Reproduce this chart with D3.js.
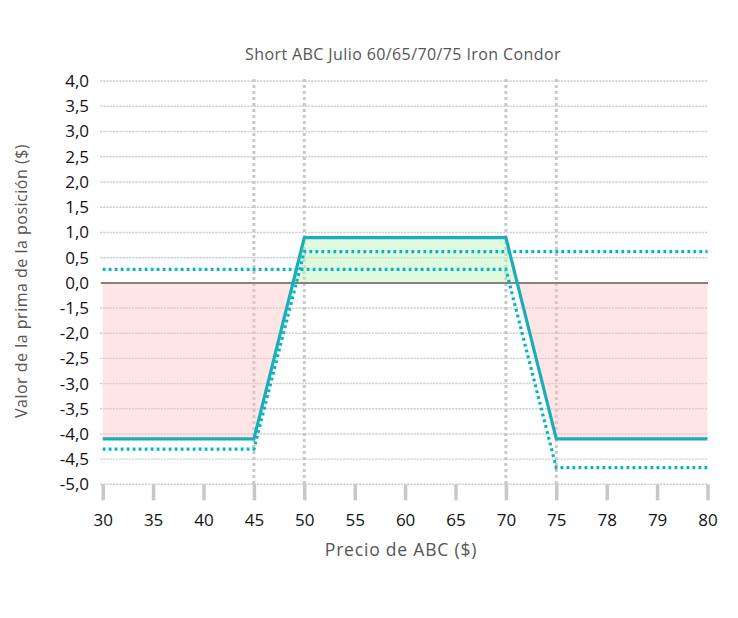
<!DOCTYPE html>
<html>
<head>
<meta charset="utf-8">
<script src="https://cdn.jsdelivr.net/npm/d3@7"></script>
<style>
  html, body { margin: 0; padding: 0; background: #fff; }
  svg { display: block; font-family: "Open Sans", "Lato", sans-serif; }
</style>
</head>
<body>
<svg id="chart" width="738" height="618"></svg>
<script>
// ---- Data ----
const chartTitle = "Short ABC Julio 60/65/70/75 Iron Condor";
const xTitle = "Precio de ABC ($)";
const yTitle = "Valor de la prima de la posición ($)";
const xLabels = ["30","35","40","45","50","55","60","65","70","75","78","79","80"];
const yTickValues = [4, 3.5, 3, 2.5, 2, 1.5, 1, 0.5, 0, -1.5, -2, -2.5, -3, -3.5, -4, -4.5, -5];
const verticalGridAt = ["45","50","70","75"];
// Solid: position value at expiration
const solidValues = [-4.1, -4.1, -4.1, -4.1, 0.9, 0.9, 0.9, 0.9, 0.9, -4.1, -4.1, -4.1, -4.1];
// Dotted series
const dottedA = [-4.3, -4.3, -4.3, -4.3, 0.62, 0.62, 0.62, 0.62, 0.62, 0.62, 0.62, 0.62, 0.62];
const dottedB = [0.27, 0.27, 0.27, 0.27, 0.27, 0.27, 0.27, 0.27, 0.27, -4.67, -4.67, -4.67, -4.67];

// ---- Setup ----
const FONT = '"Open Sans", "Lato", sans-serif';
const svg = d3.select("#chart");
const x = d3.scalePoint().domain(xLabels).range([102.7, 707.5]).padding(0);
const y = d3.scaleLinear().domain([-5, -1.5, 0, 4]).range([484.3, 308, 283, 81]);
const gridX0 = 100, gridX1 = 708;

const locale = d3.formatLocale({decimal: ",", thousands: ".", grouping: [3], currency: ["", "$"], minus: "-"});
const fmt = locale.format(".1f");

// Horizontal grid
svg.append("g").selectAll("line").data(yTickValues).join("line")
  .attr("x1", gridX0).attr("x2", gridX1)
  .attr("y1", d => y(d)).attr("y2", d => y(d))
  .attr("stroke", "#cfcfcf").attr("stroke-width", 1.4).attr("stroke-dasharray", "2.2,1");

// Vertical grid
svg.append("g").selectAll("line").data(verticalGridAt).join("line")
  .attr("x1", d => x(d)).attr("x2", d => x(d))
  .attr("y1", y(4) - 2).attr("y2", y(-5))
  .attr("stroke", "#c8c8c8").attr("stroke-width", 3).attr("stroke-dasharray", "3,3");

// Areas (pink below 0, green above 0)
const pts = xLabels.map((l, i) => ({l, v: solidValues[i]}));
const area = d3.area().x(d => x(d.l)).y0(y(0)).y1(d => y(d.v));
const defs = svg.append("defs");
defs.append("clipPath").attr("id", "above").append("rect")
  .attr("x", 0).attr("y", 0).attr("width", 738).attr("height", y(0));
defs.append("clipPath").attr("id", "below").append("rect")
  .attr("x", 0).attr("y", y(0)).attr("width", 738).attr("height", 618 - y(0));
svg.append("path").datum(pts).attr("d", area)
  .attr("fill", "#ffc0c4").attr("fill-opacity", 0.42).attr("clip-path", "url(#below)");
svg.append("path").datum(pts).attr("d", area)
  .attr("fill", "#b8f5b8").attr("fill-opacity", 0.45).attr("clip-path", "url(#above)");

// Zero line
svg.append("line").attr("x1", gridX0 + 1).attr("x2", gridX1)
  .attr("y1", y(0)).attr("y2", y(0))
  .attr("stroke", "#8a8080").attr("stroke-width", 2);

// Axes
const yAxis = d3.axisLeft(y).tickValues(yTickValues).tickFormat(fmt).tickSize(0).tickPadding(11);
const gy = svg.append("g").attr("transform", `translate(${gridX0},0)`).call(yAxis)
  .attr("font-family", FONT);
gy.select(".domain").remove();
gy.selectAll("text").attr("font-size", 17).attr("fill", "#111");

const xAxis = d3.axisBottom(x).tickSize(16).tickPadding(14);
const gx = svg.append("g").attr("transform", `translate(0,${y(-5)})`).call(xAxis)
  .attr("font-family", FONT);
gx.select(".domain").remove();
gx.selectAll(".tick line").attr("stroke", "#c8c8c8").attr("stroke-width", 3.5);
gx.selectAll("text").attr("font-size", 17).attr("fill", "#111");

// Lines
const line = d3.line().x(d => x(d.l)).y(d => y(d.v));
const mk = arr => xLabels.map((l, i) => ({l, v: arr[i]}));
svg.append("path").datum(mk(dottedA)).attr("d", line)
  .attr("fill", "none").attr("stroke", "#00b5c8").attr("stroke-width", 3.2)
  .attr("stroke-dasharray", "2.8,3.2");
svg.append("path").datum(mk(dottedB)).attr("d", line)
  .attr("fill", "none").attr("stroke", "#00b5c8").attr("stroke-width", 3.2)
  .attr("stroke-dasharray", "2.8,3.2");
svg.append("path").datum(pts).attr("d", line)
  .attr("fill", "none").attr("stroke", "#1aaeb8").attr("stroke-width", 3.2)
  .attr("stroke-linejoin", "round");

// Titles
svg.append("text").attr("x", 403).attr("y", 60).attr("text-anchor", "middle")
  .attr("font-size", 16).attr("letter-spacing", 0.4).attr("fill", "#555").text(chartTitle);
svg.append("text").attr("x", 401).attr("y", 556).attr("text-anchor", "middle")
  .attr("font-size", 17.5).attr("letter-spacing", 0.8).attr("fill", "#555").text(xTitle);
svg.append("text").attr("transform", "translate(27,281) rotate(-90)").attr("text-anchor", "middle")
  .attr("font-size", 16).attr("letter-spacing", 0.5).attr("fill", "#555").text(yTitle);
</script>
</body>
</html>
